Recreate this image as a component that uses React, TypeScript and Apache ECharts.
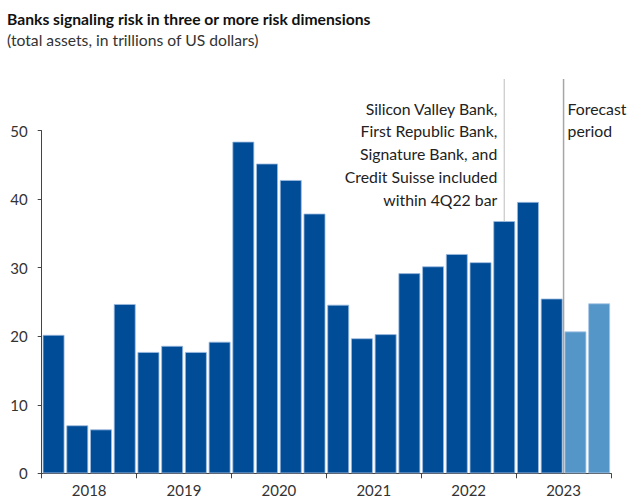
import React, { useEffect, useRef } from "react";
import * as echarts from "echarts";

const years = ["2018", "2019", "2020", "2021", "2022", "2023"];
const quarters = [
  "1Q18", "2Q18", "3Q18", "4Q18",
  "1Q19", "2Q19", "3Q19", "4Q19",
  "1Q20", "2Q20", "3Q20", "4Q20",
  "1Q21", "2Q21", "3Q21", "4Q21",
  "1Q22", "2Q22", "3Q22", "4Q22",
  "1Q23", "2Q23", "3Q23", "4Q23",
];
const values = [
  20.2, 7.0, 6.4, 24.7,
  17.7, 18.6, 17.7, 19.2,
  48.4, 45.2, 42.8, 37.9,
  24.6, 19.7, 20.3, 29.2,
  30.2, 32.0, 30.8, 36.8,
  39.6, 25.5, 20.7, 24.8,
];
const forecast = [
  false, false, false, false,
  false, false, false, false,
  false, false, false, false,
  false, false, false, false,
  false, false, false, false,
  false, false, true, true,
];
const yTicks = [0, 10, 20, 30, 40, 50];
const noteLines = [
  "Silicon Valley Bank,",
  "First Republic Bank,",
  "Signature Bank, and",
  "Credit Suisse included",
  "within 4Q22 bar",
];
const noteQuarter = "4Q22";
const forecastLines = ["Forecast", "period"];

const DARK = "#004c97";
const LIGHT = "#5596c9";
const FONT = "Lato, 'Noto Sans', sans-serif";

export default function App() {
  const ref = useRef<HTMLDivElement>(null);
  useEffect(() => {
    if (!ref.current) return;
    const chart = echarts.init(ref.current, null, { renderer: "svg" });
    const option: any = {
      animation: false,
      backgroundColor: "#ffffff",
      textStyle: { fontFamily: FONT },
      title: [
        {
          text: "Banks signaling risk in three or more risk dimensions",
          left: 2,
          top: 5.5,
          textStyle: { fontFamily: FONT, fontSize: 15.7, fontWeight: "bold", color: "#111" },
        },
        {
          text: "(total assets, in trillions of US dollars)",
          left: 2,
          top: 26.5,
          textStyle: { fontFamily: FONT, fontSize: 15.7, fontWeight: "normal", color: "#333" },
        },
      ],
      grid: { left: 41.7, right: 29, top: 130.7, bottom: 26.7, containLabel: false },
      xAxis: [
        {
          type: "category",
          data: quarters,
          show: false,
          boundaryGap: true,
        },
        {
          type: "category",
          data: years,
          position: "bottom",
          boundaryGap: true,
          axisLine: { show: true, lineStyle: { color: "#444", width: 1 } },
          axisTick: { show: true, alignWithLabel: false, length: 5, lineStyle: { color: "#444" } },
          axisLabel: { color: "#333", fontSize: 15, fontFamily: FONT, margin: 9 },
          splitLine: { show: false },
        },
      ],
      yAxis: {
        type: "value",
        min: yTicks[0],
        max: yTicks[yTicks.length - 1],
        interval: 10,
        axisLine: { show: true, lineStyle: { color: "#444", width: 1 } },
        axisTick: { show: true, length: 4, lineStyle: { color: "#444" } },
        axisLabel: { color: "#333", fontSize: 15, fontFamily: FONT, margin: 14 },
        splitLine: { show: false },
      },
      series: [
        {
          type: "bar",
          xAxisIndex: 0,
          barCategoryGap: "8%",
          data: values.map((v, i) => ({
            value: v,
            itemStyle: {
              color: forecast[i] ? LIGHT : DARK,
              borderColor: forecast[i] ? "#a8c8e6" : "#9dbbe0",
              borderWidth: 0.8,
            },
          })),
        },
      ],
    };
    chart.setOption(option);

    const noteIdx = quarters.indexOf(noteQuarter);
    const notePt = chart.convertToPixel({ seriesIndex: 0 }, [noteIdx, values[noteIdx]]) as number[];
    const firstF = forecast.indexOf(true);
    const pA = chart.convertToPixel({ seriesIndex: 0 }, [firstF - 1, 0]) as number[];
    const pB = chart.convertToPixel({ seriesIndex: 0 }, [firstF, 0]) as number[];
    const fx = (pA[0] + pB[0]) / 2;
    const zeroY = pA[1];
    const lineTop = 79;
    const textRight = notePt[0] - 7;
    const lh = 22.8;
    const y0 = 108;

    const graphics: any[] = [
      {
        type: "line",
        shape: { x1: notePt[0], y1: lineTop, x2: notePt[0], y2: notePt[1] },
        style: { stroke: "#c8c8c8", lineWidth: 1.2 },
        z: 10,
      },
      {
        type: "line",
        shape: { x1: fx, y1: lineTop, x2: fx, y2: zeroY },
        style: { stroke: "#a6a6a6", lineWidth: 1.5 },
        z: 10,
      },
    ];
    noteLines.forEach((t, i) => {
      graphics.push({
        type: "text",
        x: textRight,
        y: y0 + i * lh,
        style: {
          text: t,
          align: "right",
          verticalAlign: "middle",
          fontFamily: FONT,
          fontSize: 15.8,
          fill: "#222",
        },
        z: 10,
      });
    });
    forecastLines.forEach((t, i) => {
      graphics.push({
        type: "text",
        x: fx + 4,
        y: y0 + i * lh,
        style: {
          text: t,
          align: "left",
          verticalAlign: "middle",
          fontFamily: FONT,
          fontSize: 15.8,
          fill: "#222",
        },
        z: 10,
      });
    });
    chart.setOption({ graphic: graphics });

    return () => chart.dispose();
  }, []);
  return <div ref={ref} style={{ width: 640, height: 500, position: "absolute", left: 0, top: 0 }} />;
}
